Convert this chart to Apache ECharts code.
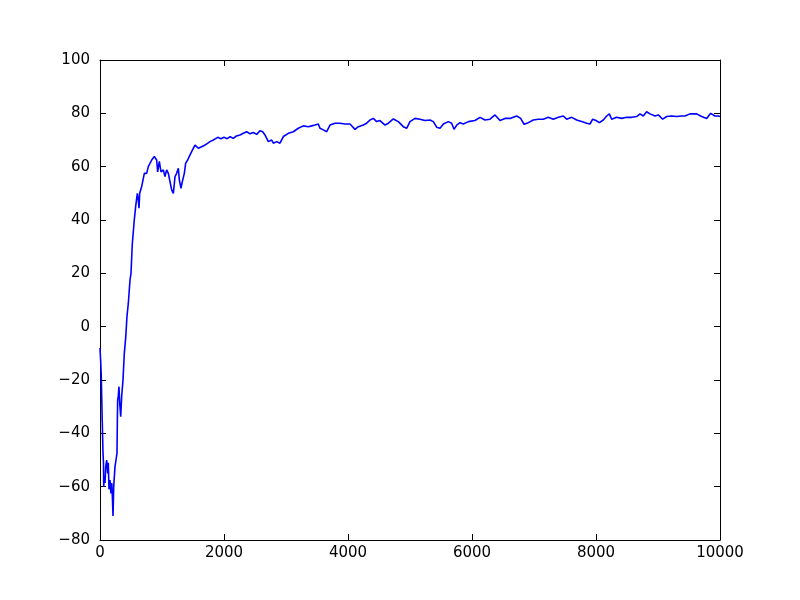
<!DOCTYPE html>
<html>
<head>
<meta charset="utf-8">
<script src="https://cdn.jsdelivr.net/npm/echarts@6/dist/echarts.min.js"></script>
<style>html,body{margin:0;padding:0;background:#fff}#c{width:800px;height:600px}</style>
</head>
<body>
<div id="c"></div>
<script>
var xs = [0,11,20,27,37,48,56,60,70,81,92,108,124,134,145,161,177,189,200,210,221,242,258,274,280,285,295,306,318,334,350,371,392,415,435,457,484,500,521,553,575,602,618,629,640,672,715,753,779,834,876,914,930,957,984,1021,1048,1075,1102,1129,1156,1183,1210,1236,1263,1280,1306,1328,1360,1382,1414,1452,1478,1505,1532,1586,1640,1694,1774,1828,1900,1950,2000,2050,2100,2150,2200,
2258,2312,2366,2419,2473,2527,2581,2624,2661,2715,2769,2796,2849,2903,2957,3038,3118,3199,3280,3360,3414,3468,3521,3548,3602,3656,3710,3790,3871,3952,4032,4113,4167,4247,4301,4355,4409,4462,4516,4597,4651,4731,4812,4892,4946,5000,5081,5161,5242,5323,5376,5430,5484,5538,5618,5672,5710,5753,5806,5860,5941,
6048,6129,6210,6290,6371,6452,6532,6613,6720,6785,6839,6909,6989,7070,7150,7231,7311,7392,7473,7527,7608,7688,7769,7850,7903,7946,8000,8054,8118,8172,8215,8253,8333,8414,8495,8575,8656,8710,8763,8817,8871,8952,9005,9075,9140,9220,9301,9382,9435,9516,9624,9704,9785,9850,9919,9973,10000];
var ys = [-8,-13,-18,-26,-36,-47,-51,-60,-56,-58.6,-52.5,-50,-55,-51,-61,-57.5,-62.5,-58.6,-64,-71,-60,-52.5,-50,-47.5,-35,-27.5,-26,-22.5,-28.7,-33.8,-26,-20,-10,-4,3.8,8.8,17.5,20,31,40,45,50,47.5,44.4,50,52.5,57.5,57.5,60,62.5,63.8,62.5,58,62,58,58.8,56.3,58.8,57.5,54.4,51.3,50,56.3,57.5,59.4,55,51.9,54.4,57.5,61.3,62.5,64.4,65.6,66.3,68.1,66.9,67.5,68.1,69.4,70,71,70.5,71,70.5,71.2,70.6,71.5,
71.9,72.5,73.1,72.3,72.8,72.1,73.5,73.1,71.9,69.4,70,68.8,69.4,68.8,71.3,72.5,73.1,74.4,75.3,75,75.3,75.6,76,74.4,73.8,73.1,75.6,76.3,76.3,76,76,74,75,75.6,76.3,77.5,78.1,76.9,77.3,75.6,76.3,77.9,76.9,75,74.4,76.9,78.1,77.8,77.3,77.5,76.9,74.8,74.4,76,76.9,76.3,74,75.6,76.5,76,76.9,
77.3,78.5,77.5,77.8,79.4,77.3,78.1,78.1,79,78.1,75.9,76.5,77.5,77.8,77.8,78.5,77.8,78.5,79,77.8,78.5,77.5,76.9,76.3,76,77.8,77.3,76.5,77.5,79,79.8,77.8,78.5,78.1,78.5,78.5,78.8,79.8,79,80.6,79.8,79,79.4,77.8,78.8,79,78.8,79,79,79.8,79.8,78.8,78.1,80,79,79,78.8];
var xTicks = [0,2000,4000,6000,8000,10000];
var yTicks = [-80,-60,-40,-20,0,20,40,60,80,100];

var data = xs.map(function(x,i){return [x, ys[i]];});
var fmt = function(v){ return String(v).replace('-', '\u2212'); };
var font = {fontFamily:'DejaVu Sans', fontSize:15, color:'#000'};
function axisBase(extra){
  var a = {
    axisLine:{show:true,onZero:false,lineStyle:{color:'#000',width:1}},
    axisTick:{show:true,inside:true,length:6,lineStyle:{color:'#000',width:1}},
    splitLine:{show:false}
  };
  for (var k in extra) a[k]=extra[k];
  return a;
}
var chart = echarts.init(document.getElementById('c'), null, {renderer:'canvas'});
chart.setOption({
  animation:false,
  backgroundColor:'#fff',
  grid:{left:100,right:80,top:60,bottom:60,containLabel:false},
  xAxis:[
    axisBase({type:'value',position:'bottom',min:xTicks[0],max:xTicks[xTicks.length-1],interval:2000,
      axisLabel:Object.assign({margin:6,formatter:fmt},font)}),
    axisBase({type:'value',position:'top',min:xTicks[0],max:xTicks[xTicks.length-1],interval:2000,axisLabel:{show:false}})
  ],
  yAxis:[
    axisBase({type:'value',position:'left',min:yTicks[0],max:yTicks[yTicks.length-1],interval:20,
      axisLabel:Object.assign({margin:10,formatter:fmt},font)}),
    axisBase({type:'value',position:'right',min:yTicks[0],max:yTicks[yTicks.length-1],interval:20,axisLabel:{show:false}})
  ],
  series:[{type:'line',data:data,showSymbol:false,symbol:'none',xAxisIndex:0,yAxisIndex:0,
    lineStyle:{color:'#0000ff',width:1.6},clip:true}]
});
</script>
</body>
</html>
